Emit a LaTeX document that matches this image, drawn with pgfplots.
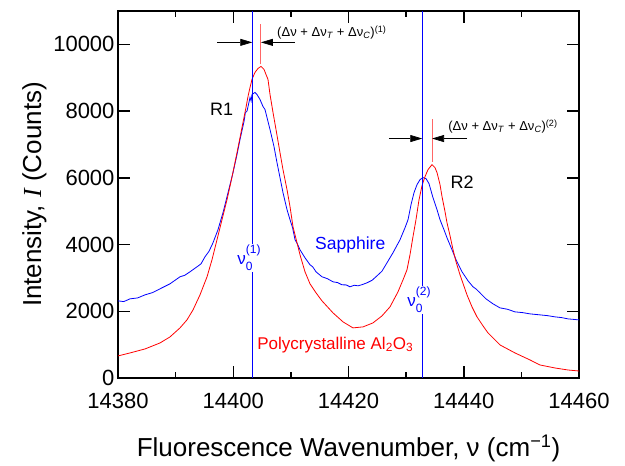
\documentclass[border=0pt]{standalone}
\usepackage{fontspec}
\setmainfont{Liberation Sans}
\newfontfamily\seriffont{Liberation Serif}
\usepackage{pgfplots}
\pgfplotsset{compat=1.18}
\usetikzlibrary{arrows.meta}
\newcommand{\supsub}[2]{\rlap{\raisebox{0.62em}{\fontsize{12}{12}\selectfont #1}}\raisebox{-0.38em}{\fontsize{12}{12}\selectfont #2}}
\begin{document}
\begin{tikzpicture}
\begin{axis}[
  name=main,
  scale only axis, width=461pt, height=367pt,
  xmin=14380, xmax=14460, ymin=0, ymax=11000,
  xtick={14380,14400,14420,14440,14460},
  minor xtick={14390,14410,14430,14450},
  ytick={0,2000,4000,6000,8000,10000},
  scaled ticks=false,
  tick align=inside,
  major tick length=12pt, minor tick length=6pt,
  xtick style={black, line width=1.5pt},
  ytick style={black, line width=1.5pt},
  axis line style={black, line width=1.5pt},
  ticklabel style={font=\fontsize{22}{26}\selectfont},
  xticklabel style={yshift=-12pt},
  label style={font=\fontsize{26}{30}\selectfont},
  xlabel style={at={(axis description cs:0.5,0)}, anchor=center, yshift=-70pt},
  xlabel={Fluorescence Wavenumber, ν (cm\textsuperscript{−1})},
  ylabel={Intensity, {\seriffont\itshape I} (Counts)},
  clip=false,
  /pgf/number format/assume math mode=true,
  /pgf/number format/1000 sep={},
]
% sapphire
\addplot[blue, line width=0.8pt] coordinates {
(14380.00,2312) (14381.0,2290) (14382.08,2372) (14383.4,2400) (14384.69,2492) (14386.0,2560) (14387.29,2673) (14389.02,2823)
(14390.76,3033) (14391.6,3080) (14392.49,3183) (14393.71,3333) (14394.4,3420) (14395.10,3634) (14395.8,3800) (14396.49,4054)
(14397.35,4444) (14398.22,4955) (14399.09,5556) (14399.96,6156) (14400.65,6697)
(14401.17,7147) (14401.87,7688) (14402.10,7950) (14402.39,8000) (14402.91,8408) (14403.10,8300) (14403.25,8498)
(14403.77,8559) (14404.12,8498) (14404.64,8348) (14405.16,8138) (14405.5,8050) (14405.86,7808)
(14406.38,7447) (14407.07,6937) (14407.59,6456) (14408.11,6006) (14408.63,5556)
(14409.33,5045) (14409.85,4745) (14410.3,4500) (14410.72,4144) (14411.1,4030) (14411.58,3844) (14412.45,3604)
(14413.32,3393) (14413.8,3330) (14414.36,3183) (14415.40,3033) (14416.3,2980) (14417.31,2883) (14418.1,2860) (14418.87,2793)
(14419.6,2790) (14420.26,2733) (14421.0,2780) (14421.65,2763) (14422.4,2800) (14423.21,2853) (14424.1,2930) (14424.95,3063) (14425.8,3200) (14426.68,3453)
(14427.72,3754) (14428.94,4144) (14429.81,4505) (14430.33,4745) (14430.85,5195)
(14431.37,5556) (14431.89,5796) (14432.41,5946) (14432.93,6006) (14433.45,5976)
(14433.97,5826) (14434.66,5405) (14435.36,5045) (14435.88,4745) (14436.57,4444)
(14437.09,4204) (14437.96,3844) (14438.66,3544) (14439.70,3183) (14440.74,2913)
(14441.61,2733) (14442.2,2660) (14442.82,2553) (14443.86,2372) (14445.08,2222) (14446.29,2102)
(14447.6,2060) (14448.89,1982) (14450.2,1960) (14451.50,1922) (14453.23,1892) (14454.5,1870) (14455.84,1832) (14457.0,1810) (14458.09,1772)
(14460.00,1742)
};
% polycrystalline
\addplot[red, line width=0.8pt] coordinates {
(14380.00,661) (14382.08,751) (14384.69,871) (14387.29,1051) (14389.02,1231)
(14390.76,1502) (14391.97,1742) (14393.02,2042) (14394.23,2492) (14395.45,3033)
(14396.31,3544) (14397.18,4144) (14398.05,4745) (14398.92,5345) (14399.61,5886)
(14400.30,6456) (14401.00,7057) (14401.69,7658) (14402.21,8108) (14402.56,8438)
(14402.91,8709) (14403.25,8949) (14403.77,9159) (14404.30,9279) (14404.82,9339)
(14405.34,9249) (14405.68,9099) (14406.03,8949) (14406.38,8498) (14406.90,7958)
(14407.42,7447) (14408.11,6757) (14408.63,6246) (14409.33,5646) (14409.85,5135)
(14410.37,4535) (14411.24,3934) (14411.58,3694) (14412.45,3183) (14413.32,2823)
(14414.36,2553) (14415.40,2312) (14417.31,1952) (14419.05,1682) (14420.78,1502)
(14422.52,1532) (14424.25,1652) (14425.81,1862) (14427.20,2132) (14428.59,2583)
(14429.46,2943) (14430.15,3243) (14430.67,3694) (14431.19,4234) (14431.71,4745)
(14432.24,5345) (14432.76,5766) (14433.28,6036) (14433.80,6246) (14434.49,6396)
(14435.01,6306) (14435.36,6156) (14435.88,5796) (14436.23,5435) (14436.75,4985)
(14437.09,4655) (14437.62,4264) (14438.14,3844) (14438.66,3483) (14439.35,3093)
(14440.56,2492) (14441.43,2132) (14442.30,1832) (14443.34,1562) (14444.21,1351)
(14445.25,1171) (14446.29,991) (14448.89,751) (14451.50,541) (14453.23,390)
(14455.84,300) (14458.09,240) (14460.00,210)
};
% line centres
\addplot[blue, line width=0.6pt] coordinates {(14403.3,0) (14403.3,11000)};
\addplot[blue, line width=0.6pt] coordinates {(14432.8,0) (14432.8,11000)};
\addplot[red!60, line width=1pt] coordinates {(14404.8,9400) (14404.8,10600)};
\addplot[red!60, line width=1pt] coordinates {(14434.5,6480) (14434.5,7750)};
% shift arrows
\addplot[black, line width=0.7pt, -{Triangle[length=12pt,width=7pt]}] coordinates {(14397.2,10060) (14403.3,10060)};
\addplot[black, line width=0.7pt, -{Triangle[length=12pt,width=7pt]}] coordinates {(14410.7,10060) (14404.8,10060)};
\addplot[black, line width=0.7pt, -{Triangle[length=12pt,width=7pt]}] coordinates {(14427.0,7177) (14432.8,7177)};
\addplot[black, line width=0.7pt, -{Triangle[length=12pt,width=7pt]}] coordinates {(14440.6,7177) (14434.5,7177)};
% tick marks on all four sides, as short segments
\pgfplotsinvokeforeach{14400,14420,14440}{
  \addplot[black, line width=1.5pt] coordinates {(#1,0) (#1,360)};
  \addplot[black, line width=1.5pt] coordinates {(#1,11000) (#1,10640)};
}
\pgfplotsinvokeforeach{14390,14410,14430,14450}{
  \addplot[black, line width=1.5pt] coordinates {(#1,0) (#1,180)};
  \addplot[black, line width=1.5pt] coordinates {(#1,11000) (#1,10820)};
}
\pgfplotsinvokeforeach{2000,4000,6000,8000,10000}{
  \addplot[black, line width=1.5pt] coordinates {(14380,#1) (14382.08,#1)};
  \addplot[black, line width=1.5pt] coordinates {(14460,#1) (14457.92,#1)};
}
% labels
\node[anchor=west, font=\fontsize{13}{15}\selectfont, inner sep=0pt] at (axis cs:14407.6,10360)
  {(Δν + Δν\textsubscript{\textit{T}} + Δν\textsubscript{\textit{C}})\textsuperscript{(1)}};
\node[anchor=west, font=\fontsize{13}{15}\selectfont, inner sep=0pt] at (axis cs:14437.3,7537)
  {(Δν + Δν\textsubscript{\textit{T}} + Δν\textsubscript{\textit{C}})\textsuperscript{(2)}};
\node[font=\fontsize{18}{20}\selectfont] at (axis cs:14398.0,8048) {R1};
\node[font=\fontsize{18}{20}\selectfont] at (axis cs:14439.7,5856) {R2};
\node[blue, font=\fontsize{17.5}{20}\selectfont] at (axis cs:14420.3,3994) {Sapphire};
\node[red, font=\fontsize{17}{20}\selectfont] at (axis cs:14417.7,1000) {Polycrystalline Al\textsubscript{2}O\textsubscript{3}};
\node[blue, fill=white, inner sep=1pt, font=\fontsize{17}{20}\selectfont] at (axis cs:14403.3,3604) {ν\supsub{(1)}{0}\phantom{\fontsize{12}{12}\selectfont(1)}};
\node[blue, fill=white, inner sep=1pt, font=\fontsize{17}{20}\selectfont] at (axis cs:14432.8,2342) {ν\supsub{(2)}{0}\phantom{\fontsize{12}{12}\selectfont(2)}};
\end{axis}
\path[use as bounding box] ([xshift=-118pt,yshift=-87pt]main.south west) rectangle ([xshift=46pt,yshift=11pt]main.north east);
\end{tikzpicture}
\end{document}
